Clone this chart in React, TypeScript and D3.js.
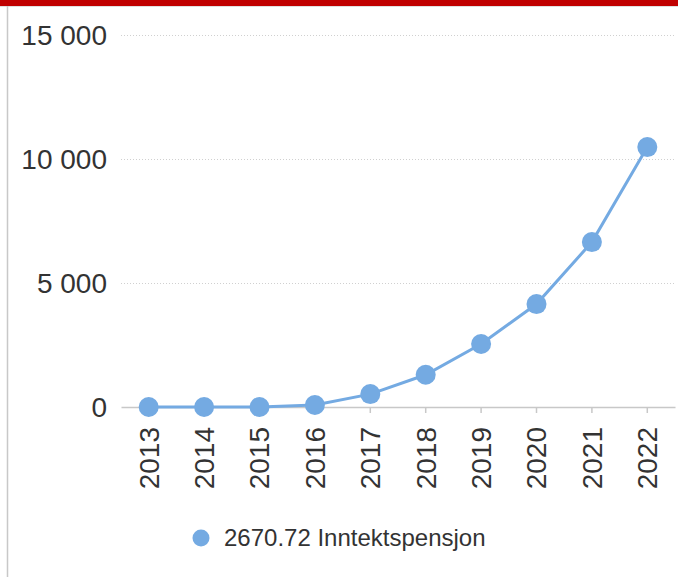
import React, { useRef, useEffect } from "react"
import * as d3 from "d3"

// chart data
const years = ["2013", "2014", "2015", "2016", "2017", "2018", "2019", "2020", "2021", "2022"]
const values = [0, 0, 0, 80, 520, 1300, 2540, 4150, 6650, 10480]
const yTicks = [0, 5000, 10000, 15000]
const seriesName = "2670.72 Inntektspensjon"

const W = 678
const H = 577
const FONT = "'Liberation Sans', Arial, sans-serif"
const BLUE = "#74aae2"

const App = () => {
  const ref = useRef<SVGSVGElement>(null)

  useEffect(() => {
    if (!ref.current) return
    const svg = d3.select(ref.current)
    svg.selectAll("*").remove()

    const x = d3.scaleBand().domain(years).range([121, 675]).padding(0)
    const y = d3.scaleLinear().domain([0, 15000]).range([407, 35])
    const cx = (d: string) => (x(d) as number) + x.bandwidth() / 2

    // frame
    svg.append("rect").attr("x", 0).attr("y", 0).attr("width", W).attr("height", 6).attr("fill", "#c00000")
    svg.append("line").attr("x1", 0).attr("x2", W).attr("y1", 6.5).attr("y2", 6.5).attr("stroke", "#e0e0e0")
    svg.append("line").attr("x1", 7.5).attr("x2", 7.5).attr("y1", 6).attr("y2", H).attr("stroke", "#c8c8c8").attr("stroke-width", 1.5)

    // grid
    const grid = svg.append("g")
    grid.selectAll("line")
      .data(yTicks.filter(t => t !== 0))
      .join("line")
      .attr("x1", 121).attr("x2", 675)
      .attr("y1", d => y(d) + 0.5).attr("y2", d => y(d) + 0.5)
      .attr("stroke", "#d0d0d0").attr("stroke-dasharray", "1,2")

    // y labels
    svg.append("g").selectAll("text")
      .data(yTicks)
      .join("text")
      .attr("x", 107).attr("y", d => y(d))
      .attr("dy", "0.35em")
      .attr("text-anchor", "end")
      .attr("font-family", FONT).attr("font-size", 28).attr("fill", "#333")
      .text(d => d3.format(",")(d).replace(/,/g, " "))

    // x axis
    const xAxis = svg.append("g").attr("transform", `translate(0,${y(0)})`)
    xAxis.call(d3.axisBottom(x).tickSize(6).tickSizeOuter(0).tickFormat(() => ""))
    xAxis.select(".domain").attr("stroke", "#c8c8c8").attr("stroke-width", 1.5)
    xAxis.selectAll(".tick line").attr("stroke", "#c8c8c8").attr("stroke-width", 1.5)

    svg.append("g").selectAll("text")
      .data(years)
      .join("text")
      .attr("transform", d => `translate(${cx(d)},${y(0) + 20}) rotate(-90)`)
      .attr("text-anchor", "end")
      .attr("dy", "0.35em")
      .attr("font-family", FONT).attr("font-size", 28).attr("fill", "#333")
      .text(d => d)

    // line + points
    const line = d3.line<number>().x((_, i) => cx(years[i])).y(d => y(d))
    svg.append("path").datum(values)
      .attr("d", line)
      .attr("fill", "none").attr("stroke", BLUE).attr("stroke-width", 3)

    svg.append("g").selectAll("circle")
      .data(values)
      .join("circle")
      .attr("cx", (_, i) => cx(years[i])).attr("cy", d => y(d))
      .attr("r", 10).attr("fill", BLUE)

    // legend
    const lg = svg.append("g").attr("transform", "translate(201,538)")
    lg.append("circle").attr("r", 8.5).attr("fill", BLUE)
    lg.append("text").attr("x", 23).attr("dy", "0.35em")
      .attr("font-family", FONT).attr("font-size", 24).attr("fill", "#333")
      .text(seriesName)
  }, [])

  return (
    <svg ref={ref} width={W} height={H}
      style={{ position: "absolute", left: 0, top: 0, background: "#fff" }} />
  )
}

export default App
